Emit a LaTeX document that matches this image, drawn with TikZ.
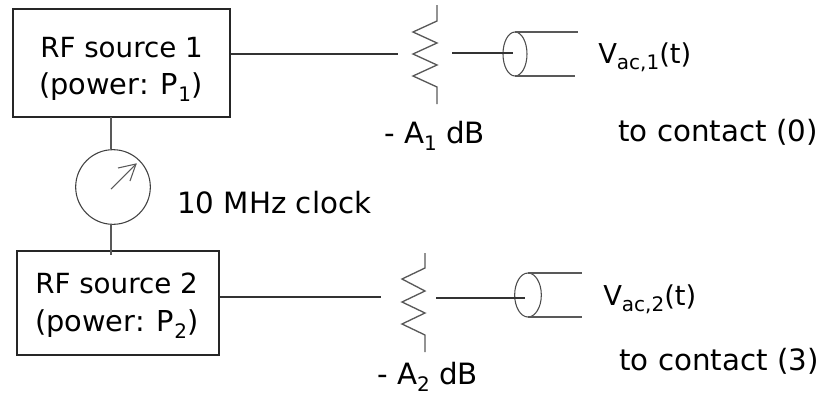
\documentclass[tikz,border=0pt]{standalone}
\usepackage{fontspec}
\usetikzlibrary{shapes.geometric}
\setmainfont{DejaVu Sans}
\newcommand{\lowsub}[1]{\raisebox{-0.45ex}{\fontsize{15}{15}\selectfont #1}}
\tikzset{
  x=0.75pt,y=-0.75pt,
  wire/.style={draw=black!80,line width=1pt},
  thin wire/.style={draw=black!65,line width=1pt},
  srcbox/.style={draw=black!85,line width=1.1pt,minimum width=#1*0.75pt,inner sep=0pt,align=center,fill=none},
  lbl/.style={inner sep=0pt,anchor=base west,font=\fontsize{22}{26}\selectfont,text=black},
  boxlbl/.style={lbl,font=\fontsize{20.8}{25}\selectfont},
  powlbl/.style={lbl,font=\fontsize{21.6}{25}\selectfont},
  siglbl/.style={lbl,font=\fontsize{20.5}{25}\selectfont},
  dial/.style={circle,draw=black!75,line width=0.8pt,minimum size=56pt,inner sep=0pt,outer sep=0pt},
  coax/.style={ellipse,draw=black!70,line width=0.8pt,inner sep=0pt,outer sep=0pt},
}
\begin{document}
\begin{tikzpicture}
\useasboundingbox (0,0) rectangle (822,397);
% sources
\node[srcbox=217,minimum height=81pt] (s1) at (121.5,63) {};
\node[srcbox=202,minimum height=78pt] (s2) at (118,303) {};
\node[boxlbl] (s1a) at (40,57) {RF source 1};
\node[powlbl] (s1b) at (39,94) {(power: P\lowsub{1})};
\node[boxlbl] (s2a) at (35,293) {RF source 2};
\node[powlbl] (s2b) at (35,331) {(power: P\lowsub{2})};
% clock
\node[dial] (clk) at (113,187) {};
\coordinate (ct) at (111,149);
\coordinate (cb) at (111,224);
\coordinate (s1b0) at (111,117);
\coordinate (s2t0) at (111,255);
\draw[thin wire] (s1b0) -- (ct);
\draw[thin wire] (cb) -- (s2t0);
\coordinate (n0) at (111,189);
\coordinate (n1) at (136,164);
\draw[thin wire,line width=0.8pt] (n0) -- (n1);
\coordinate (h1) at (118,168);
\coordinate (h2) at (130,181);
\draw[thin wire,line width=0.8pt] (h1) -- (n1) -- (h2);
\node[lbl] (clkl) at (177,213) {10 MHz clock};
% attenuator 1
\coordinate (a1l) at (398,54);
\coordinate (a1r) at (452,53);
\coordinate (c1c) at (513,53);
\draw[wire] (s1.east |- a1l) -- (a1l);
\draw[thin wire] (437,5) -- (437,21) -- (413,32) -- (437,43) -- (413,54) -- (437,65) -- (413,76) -- (437,87) -- (437,104);
\node[coax,minimum width=18pt,minimum height=33pt] (c1) at (515,54) {};
\coordinate (c1te) at (578,0);
\coordinate (c1be) at (575,0);
\draw[thin wire] (c1.north) -- (c1.north -| c1te);
\draw[thin wire] (c1.south) -- (c1.south -| c1be);
\draw[wire] (a1r) -- (c1c);
\node[lbl] (a1t) at (384,143) {- A\lowsub{1} dB};
\node[siglbl] (v1) at (598,63) {V\lowsub{ac,1}(t)};
\node[lbl] (t1) at (618,141) {to contact (0)};
% attenuator 2
\coordinate (a2l) at (381,297);
\coordinate (a2r) at (436,298);
\coordinate (c2c) at (525,298);
\draw[wire] (s2.east |- a2l) -- (a2l);
\draw[thin wire] (425,253) -- (425,268) -- (402,279) -- (425,291) -- (402,302) -- (425,313) -- (402,324) -- (425,335) -- (425,352);
\node[coax,minimum width=20pt,minimum height=33pt] (c2) at (528,295) {};
\coordinate (c2e) at (582,0);
\draw[thin wire] (c2.north) -- (c2.north -| c2e);
\draw[thin wire] (c2.south) -- (c2.south -| c2e);
\draw[wire] (a2r) -- (c2c);
\node[lbl] (a2t) at (377,384) {- A\lowsub{2} dB};
\node[siglbl] (v2) at (603,305) {V\lowsub{ac,2}(t)};
\node[lbl] (t2) at (619,370) {to contact (3)};
\end{tikzpicture}
\end{document}
